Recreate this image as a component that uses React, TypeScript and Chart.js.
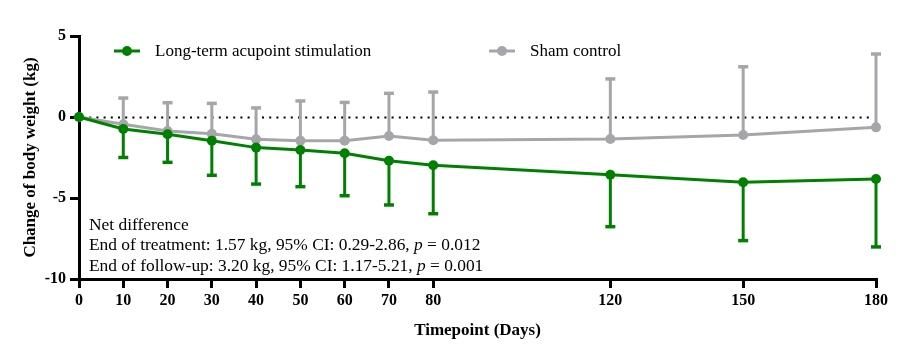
import React, { useEffect, useRef } from "react";
import { Chart, registerables } from "chart.js";

Chart.register(...registerables);

// ---- Data ----
const days = [0, 10, 20, 30, 40, 50, 60, 70, 80, 120, 150, 180];
const acupointMean = [0, -0.74, -1.07, -1.46, -1.89, -2.04, -2.24, -2.7, -2.98, -3.56, -4.03, -3.83];
const acupointLower = [0, -2.5, -2.8, -3.6, -4.14, -4.3, -4.86, -5.43, -5.97, -6.77, -7.63, -8.02];
const shamMean = [0, -0.45, -0.86, -1.03, -1.38, -1.46, -1.46, -1.17, -1.44, -1.36, -1.11, -0.64];
const shamUpper = [0, 1.17, 0.88, 0.84, 0.56, 0.99, 0.9, 1.46, 1.54, 2.35, 3.1, 3.89];
const yTicks = [-10, -5, 0, 5];
const seriesNames = ["Long-term acupoint stimulation", "Sham control"];
const noteLines: [string, boolean][][] = [
  [["Net difference", false]],
  [["End of treatment: 1.57 kg, 95% CI: 0.29-2.86, ", false], ["p", true], [" = 0.012", false]],
  [["End of follow-up: 3.20 kg, 95% CI: 1.17-5.21, ", false], ["p", true], [" = 0.001", false]],
];

const GREEN = "#008000";
const GRAY = "#a6a6aa";
const SERIF = '"Liberation Serif", "Times New Roman", Times, serif';

const means = [acupointMean, shamMean];
const ends = [acupointLower, shamUpper];
const colors = [GREEN, GRAY];

const errorBarPlugin = {
  id: "errorBars",
  beforeDatasetDraw(chart: any, args: any) {
    const i = args.index;
    const xs = chart.scales.x;
    const ys = chart.scales.y;
    const ctx = chart.ctx;
    ctx.save();
    ctx.strokeStyle = colors[i];
    ctx.lineCap = "butt";
    days.forEach((d, k) => {
      const x = xs.getPixelForValue(d);
      const y0 = ys.getPixelForValue(means[i][k]);
      const y1 = ys.getPixelForValue(ends[i][k]);
      if (Math.abs(y1 - y0) < 1) return;
      ctx.lineWidth = 3;
      ctx.beginPath();
      ctx.moveTo(x, y0);
      ctx.lineTo(x, y1);
      ctx.stroke();
      ctx.lineWidth = 3.5;
      ctx.beginPath();
      ctx.moveTo(x - 5, y1);
      ctx.lineTo(x + 5, y1);
      ctx.stroke();
    });
    ctx.restore();
  },
};

const zeroLinePlugin = {
  id: "zeroLine",
  beforeDatasetsDraw(chart: any) {
    const { ctx, chartArea } = chart;
    const y = Math.round(chart.scales.y.getPixelForValue(0)) + 0.5;
    ctx.save();
    ctx.strokeStyle = "#000";
    ctx.lineWidth = 2;
    ctx.setLineDash([2, 5.2]);
    ctx.beginPath();
    ctx.moveTo(chartArea.left + 3, y);
    ctx.lineTo(chartArea.right - 4, y);
    ctx.stroke();
    ctx.restore();
  },
};

const overlayPlugin = {
  id: "overlay",
  afterDraw(chart: any) {
    const { ctx, chartArea } = chart;
    ctx.save();
    // legend
    const legendY = chartArea.top + 15;
    const legendX = [chartArea.left + 35, chartArea.left + 410];
    seriesNames.forEach((name, i) => {
      const x0 = legendX[i];
      ctx.strokeStyle = colors[i];
      ctx.lineWidth = 3;
      ctx.beginPath();
      ctx.moveTo(x0, legendY);
      ctx.lineTo(x0 + 26, legendY);
      ctx.stroke();
      ctx.fillStyle = colors[i];
      ctx.beginPath();
      ctx.arc(x0 + 13, legendY, 5, 0, Math.PI * 2);
      ctx.fill();
      ctx.fillStyle = "#000";
      ctx.font = `17px ${SERIF}`;
      ctx.textBaseline = "middle";
      ctx.textAlign = "left";
      ctx.fillText(name, x0 + 41, legendY + 1);
    });
    // note
    const noteX = chartArea.left + 10;
    const noteY0 = chartArea.top + 189;
    ctx.fillStyle = "#000";
    ctx.textBaseline = "middle";
    ctx.textAlign = "left";
    noteLines.forEach((segs, li) => {
      let cx = noteX;
      const y = noteY0 + li * 20.7;
      segs.forEach(([text, italic]) => {
        ctx.font = `${italic ? "italic " : ""}17.4px ${SERIF}`;
        ctx.fillText(text, cx, y);
        cx += ctx.measureText(text).width;
      });
    });
    ctx.restore();
  },
};

export default function App() {
  const ref = useRef<HTMLCanvasElement | null>(null);
  useEffect(() => {
    if (!ref.current) return;
    const tickFont = { family: SERIF, size: 16, weight: "bold" as const };
    const titleFont = { family: SERIF, size: 17, weight: "bold" as const };
    const chart = new Chart(ref.current, {
      type: "line",
      data: {
        datasets: [0, 1].map((i) => ({
          label: seriesNames[i],
          data: days.map((d, k) => ({ x: d, y: means[i][k] })),
          borderColor: colors[i],
          backgroundColor: colors[i],
          borderWidth: 3,
          pointRadius: 5,
          pointBorderWidth: 0,
          pointBackgroundColor: colors[i],
          tension: 0,
          clip: false as any,
        })),
      },
      options: {
        animation: false,
        responsive: false,
        layout: { padding: { top: 36, right: 43, left: 0, bottom: 0 } },
        plugins: { legend: { display: false }, tooltip: { enabled: false } },
        scales: {
          x: {
            type: "linear",
            min: 0,
            max: 180,
            afterBuildTicks: (s: any) => {
              s.ticks = days.map((v) => ({ value: v }));
            },
            afterFit: (s: any) => {
              s.height = 76;
            },
            border: { display: true, color: "#000", width: 3 },
            grid: {
              display: true,
              drawOnChartArea: false,
              drawTicks: true,
              tickLength: 9,
              tickWidth: 3,
              tickColor: "#000",
              color: "#000",
              lineWidth: 3,
            },
            ticks: { color: "#000", font: tickFont, padding: 3, maxRotation: 0, autoSkip: false },
            title: {
              display: true,
              text: "Timepoint (Days)",
              color: "#000",
              font: titleFont,
              padding: { top: 0, bottom: 14 },
            },
          },
          y: {
            min: -10,
            max: 5,
            afterBuildTicks: (s: any) => {
              s.ticks = yTicks.map((v) => ({ value: v }));
            },
            afterFit: (s: any) => {
              s.width = 79;
            },
            border: { display: true, color: "#000", width: 3 },
            grid: {
              display: true,
              drawOnChartArea: false,
              drawTicks: true,
              tickLength: 9,
              tickWidth: 3,
              tickColor: "#000",
              color: "#000",
              lineWidth: 3,
            },
            ticks: { color: "#000", font: tickFont, padding: 4 },
            title: {
              display: true,
              text: "Change of body weight (kg)",
              color: "#000",
              font: titleFont,
              padding: { top: 20, bottom: 0 },
            },
          },
        },
      },
      plugins: [errorBarPlugin, zeroLinePlugin, overlayPlugin],
    });
    return () => chart.destroy();
  }, []);
  return (
    <div style={{ position: "absolute", left: 0, top: 0, width: 919, height: 355, background: "#fff" }}>
      <canvas ref={ref} width={919} height={355} style={{ display: "block" }} />
    </div>
  );
}
